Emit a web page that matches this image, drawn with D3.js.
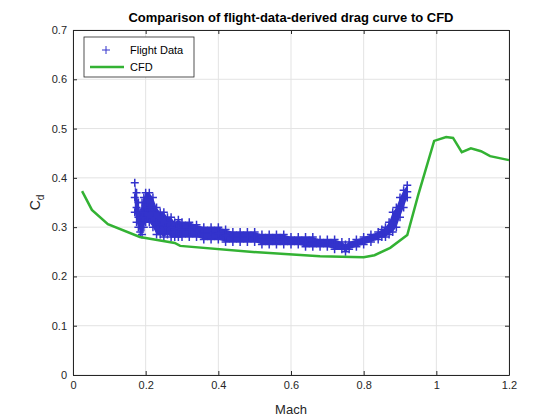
<!DOCTYPE html>
<html><head><meta charset="utf-8">
<script src="https://cdn.jsdelivr.net/npm/d3@7"></script>
<style>body{margin:0;background:#fff}text{font-family:"Liberation Sans",Arial,sans-serif}</style>
</head><body><div id="chart"></div>
<script>
const cfdMach = [0.025,0.052,0.096,0.184,0.28,0.295,0.487,0.68,0.80,0.83,0.873,0.92,0.95,0.994,1.027,1.046,1.07,1.095,1.123,1.148,1.2];
const cfdCd   = [0.373,0.335,0.306,0.280,0.268,0.262,0.250,0.241,0.239,0.243,0.258,0.284,0.365,0.475,0.483,0.481,0.452,0.460,0.454,0.444,0.436];
const flightMach = [0.17,0.175,0.18,0.185,0.19,0.195,0.20,0.21,0.22,0.23,0.24,0.25,0.26,0.27,0.28,0.29,0.30,0.32,0.34,0.36,0.38,0.40,0.42,0.44,0.46,0.48,0.50,0.52,0.54,0.56,0.58,0.60,0.62,0.64,0.66,0.68,0.70,0.72,0.74,0.75,0.76,0.78,0.80,0.82,0.84,0.85,0.86,0.87,0.88,0.89,0.90,0.91,0.92];
const flightHi = [0.39,0.37,0.35,0.33,0.35,0.36,0.37,0.37,0.36,0.34,0.33,0.33,0.32,0.32,0.31,0.315,0.31,0.31,0.305,0.30,0.30,0.30,0.295,0.29,0.29,0.29,0.29,0.285,0.285,0.285,0.285,0.28,0.28,0.28,0.28,0.275,0.275,0.275,0.27,0.265,0.27,0.275,0.28,0.285,0.29,0.295,0.30,0.31,0.33,0.34,0.36,0.375,0.385];
const flightMid = [0.36,0.34,0.32,0.31,0.32,0.33,0.34,0.34,0.33,0.31,0.305,0.30,0.30,0.30,0.295,0.297,0.295,0.295,0.292,0.288,0.288,0.287,0.283,0.28,0.28,0.28,0.28,0.275,0.275,0.275,0.275,0.272,0.272,0.27,0.27,0.268,0.268,0.265,0.262,0.258,0.262,0.268,0.272,0.278,0.282,0.288,0.29,0.298,0.31,0.32,0.34,0.357,0.372];
const flightLo = [0.33,0.31,0.30,0.29,0.285,0.30,0.31,0.31,0.30,0.285,0.285,0.28,0.285,0.28,0.28,0.28,0.28,0.28,0.28,0.275,0.275,0.275,0.27,0.27,0.27,0.27,0.27,0.265,0.265,0.265,0.265,0.265,0.265,0.26,0.26,0.26,0.26,0.255,0.255,0.25,0.255,0.26,0.265,0.27,0.275,0.28,0.28,0.285,0.29,0.30,0.32,0.34,0.36];
const xTicks = [0,0.2,0.4,0.6,0.8,1,1.2];
const yTicks = [0,0.1,0.2,0.3,0.4,0.5,0.6,0.7];

const W = 560, H = 420;
const m = {left:73, right:51, top:30, bottom:45};
const w = W - m.left - m.right, h = H - m.top - m.bottom;
const svg = d3.select('#chart').append('svg').attr('width', W).attr('height', H);
const g = svg.append('g').attr('transform', `translate(${m.left},${m.top})`);
const x = d3.scaleLinear().domain([0,1.2]).range([0,w]);
const y = d3.scaleLinear().domain([0,0.7]).range([h,0]);

// grid
g.selectAll('.gx').data(xTicks).enter().append('line')
  .attr('x1', d => x(d)).attr('x2', d => x(d)).attr('y1', 0).attr('y2', h)
  .attr('stroke', '#e3e3e3');
g.selectAll('.gy').data(yTicks).enter().append('line')
  .attr('y1', d => y(d)).attr('y2', d => y(d)).attr('x1', 0).attr('x2', w)
  .attr('stroke', '#e3e3e3');

// flight data: dense band of markers
const band = flightMach.map((d, i) => [d, flightLo[i], flightHi[i]]);
g.append('path').datum(band)
  .attr('d', d3.area().x(d => x(d[0])).y0(d => y(d[1])).y1(d => y(d[2])))
  .attr('fill', '#3333cc');
const pts = [];
flightMach.forEach((mm, i) => {
  pts.push([mm, flightLo[i]], [mm, flightMid[i]], [mm, flightHi[i]]);
});
const s = 4;
g.append('g').selectAll('path').data(pts).enter().append('path')
  .attr('d', d => `M${x(d[0])-s},${y(d[1])}h${2*s}M${x(d[0])},${y(d[1])-s}v${2*s}`)
  .attr('stroke', '#3333cc').attr('stroke-width', 1.5).attr('fill', 'none');

// CFD line
g.append('path')
  .datum(cfdMach.map((d, i) => [d, cfdCd[i]]))
  .attr('d', d3.line().x(d => x(d[0])).y(d => y(d[1])))
  .attr('stroke', '#33b233').attr('stroke-width', 2.5).attr('fill', 'none');

// axes
g.append('g').attr('transform', `translate(0,${h})`)
  .call(d3.axisBottom(x).tickValues(xTicks).tickSizeInner(-4).tickSizeOuter(0).tickPadding(6).tickFormat(d3.format('')));
g.append('g')
  .call(d3.axisLeft(y).tickValues(yTicks).tickSizeInner(-4).tickSizeOuter(0).tickPadding(6).tickFormat(d3.format('')));
g.append('g').attr('transform', `translate(${w},0)`)
  .call(d3.axisRight(y).tickValues(yTicks).tickSizeInner(-4).tickSizeOuter(0).tickFormat(''));
g.append('g')
  .call(d3.axisTop(x).tickValues(xTicks).tickSizeInner(-4).tickSizeOuter(0).tickFormat(''));
g.selectAll('.domain, .tick line').attr('stroke', '#262626');
g.selectAll('.tick text').attr('fill', '#262626').style('font-size', '11px');

svg.append('text').attr('x', m.left + w/2).attr('y', 22).attr('text-anchor', 'middle')
  .style('font-size', '13px').style('font-weight', 'bold').attr('fill', '#000')
  .text('Comparison of flight-data-derived drag curve to CFD');
svg.append('text').attr('x', m.left + w/2).attr('y', H - 6).attr('text-anchor', 'middle')
  .style('font-size', '13px').attr('fill', '#262626').text('Mach');
const yl = svg.append('text').attr('transform', `translate(40,${m.top + h/2}) rotate(-90)`)
  .attr('text-anchor', 'middle').style('font-size', '14px').attr('fill', '#262626');
yl.append('tspan').text('C');
yl.append('tspan').attr('dy', 4).style('font-size', '10px').text('d');

// legend
const lg = svg.append('g').attr('transform', 'translate(84,37)');
lg.append('rect').attr('width', 110).attr('height', 40).attr('fill', '#fff').attr('stroke', '#262626').attr('stroke-width', 0.8);
lg.append('path').attr('d', 'M18,13h8M22,9v8').attr('stroke', '#3333cc');
lg.append('text').attr('x', 46).attr('y', 17).style('font-size', '11px').text('Flight Data');
lg.append('line').attr('x1', 6).attr('x2', 40).attr('y1', 30).attr('y2', 30).attr('stroke', '#33b233').attr('stroke-width', 2.5);
lg.append('text').attr('x', 46).attr('y', 34).style('font-size', '11px').text('CFD');
</script></body></html>
